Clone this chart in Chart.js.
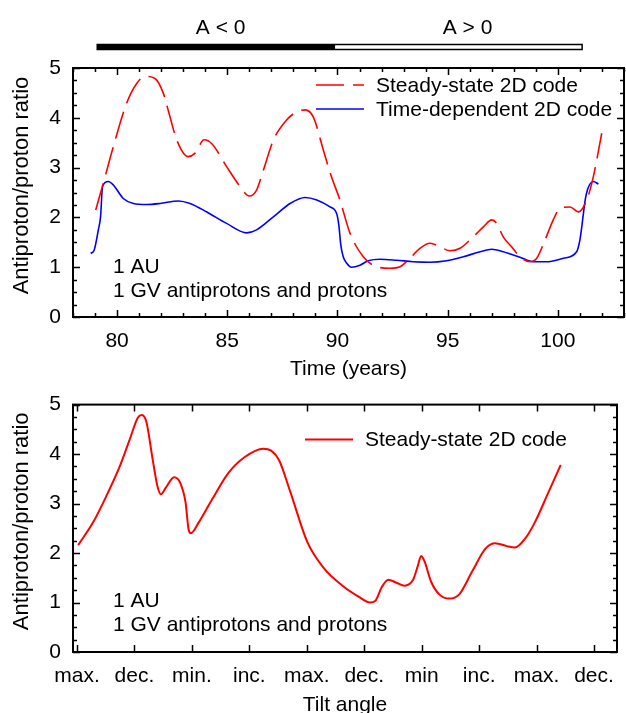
<!DOCTYPE html>
<html>
<head>
<meta charset="utf-8">
<script src="https://cdn.jsdelivr.net/npm/chart.js@4.4.0/dist/chart.umd.min.js"></script>
<style>
  html, body { margin: 0; padding: 0; background: #fff; }
  #wrap { position: relative; width: 626px; height: 713px; overflow: hidden; }
  canvas { position: absolute; left: 0; }
  #topChart { top: 0; }
  #tiltChart { top: 380px; }
</style>
</head>
<body>
<div id="wrap">
  <canvas id="topChart" width="626" height="395"></canvas>
  <canvas id="tiltChart" width="626" height="340"></canvas>
</div>
<script>
// --- data ---
// upper panel: ratio vs time (years)
const ssYears = [79.03, 79.37, 79.83, 80.43, 80.89, 81.27, 81.72, 82.10, 82.40, 82.71, 83.23, 83.54, 83.95, 84.30,
  84.97, 85.58, 86.00, 86.33, 86.64, 87.09, 87.70, 88.15, 88.53, 88.90, 89.36, 89.70, 90.11, 90.57, 91.17, 91.78,
  92.38, 92.84, 93.29, 93.74, 94.20, 94.65, 95.11, 95.56, 96.16, 96.62, 97.00, 97.22, 97.52, 97.90, 98.28, 98.74,
  99.04, 99.42, 99.79, 100.10, 100.55, 100.93, 101.31, 101.61, 101.99];
const ssRatio = [2.15, 2.68, 3.42, 4.29, 4.69, 4.83, 4.79, 4.49, 4.02, 3.55, 3.22, 3.29, 3.56, 3.48,
  3.02, 2.62, 2.43, 2.55, 2.95, 3.55, 3.96, 4.12, 4.16, 4.02, 3.35, 2.85, 2.35, 1.68, 1.21, 1.01,
  0.98, 1.01, 1.18, 1.38, 1.48, 1.41, 1.33, 1.38, 1.61, 1.81, 1.95, 1.88, 1.61, 1.41, 1.21, 1.11,
  1.18, 1.55, 1.95, 2.18, 2.21, 2.11, 2.35, 2.82, 3.69];

const tdYears = [78.80, 78.95, 79.15, 79.25, 79.34, 79.60, 79.83, 80.28, 80.74, 81.34, 81.95, 82.78, 83.31, 84.07,
  84.97, 85.88, 86.33, 87.09, 87.85, 88.53, 89.06, 89.66, 89.96, 90.06, 90.15, 90.26, 90.42, 90.64, 91.02, 91.40,
  91.93, 92.68, 93.44, 94.20, 94.95, 95.71, 96.47, 97.00, 97.52, 98.28, 98.89, 99.49, 100.25, 100.85, 101.00,
  101.28, 101.61, 101.84];
const tdRatio = [1.28, 1.33, 1.75, 2.01, 2.62, 2.72, 2.65, 2.38, 2.28, 2.26, 2.28, 2.33, 2.28, 2.11,
  1.88, 1.69, 1.75, 2.01, 2.28, 2.40, 2.35, 2.21, 2.08, 1.85, 1.45, 1.21, 1.08, 1.00, 1.04, 1.13,
  1.16, 1.14, 1.11, 1.10, 1.13, 1.21, 1.31, 1.36, 1.31, 1.20, 1.11, 1.11, 1.18, 1.31, 1.55,
  2.45, 2.72, 2.67];

const timeTicks = [80, 85, 90, 95, 100];
const ratioTicks = [0, 1, 2, 3, 4, 5];

// magnetic polarity bar above the upper panel
const polarityEdges = [79.1, 89.9, 101.1];
const polarityLabels = ['A < 0', 'A > 0'];
const polarityLabelAt = [84.7, 95.9];

// lower panel: ratio vs tilt-angle phase
const tiltLabels = ['max.', 'dec.', 'min.', 'inc.', 'max.', 'dec.', 'min', 'inc.', 'max.', 'dec.'];
const tiltPhase = [0.02, 0.28, 0.51, 0.74, 0.91, 1.06, 1.13, 1.21, 1.31, 1.40, 1.46, 1.54, 1.69, 1.80, 1.89,
  1.94, 1.98, 2.12, 2.35, 2.63, 2.92, 3.24, 3.38, 3.52, 3.72, 4.01, 4.30, 4.61, 4.90, 5.10, 5.19, 5.30,
  5.42, 5.56, 5.70, 5.85, 5.93, 5.99, 6.05, 6.16, 6.31, 6.48, 6.65, 6.88, 7.11, 7.28, 7.48, 7.62, 7.80,
  7.97, 8.20, 8.42];
const tiltRatio = [2.16, 2.62, 3.15, 3.74, 4.27, 4.74, 4.79, 4.64, 3.94, 3.35, 3.19, 3.31, 3.53, 3.41, 3.02,
  2.49, 2.40, 2.62, 3.08, 3.61, 3.94, 4.11, 4.07, 3.87, 3.21, 2.22, 1.69, 1.35, 1.12, 1.00, 1.03, 1.30,
  1.46, 1.40, 1.34, 1.46, 1.73, 1.94, 1.83, 1.43, 1.16, 1.08, 1.16, 1.63, 2.09, 2.20, 2.14, 2.11, 2.29,
  2.62, 3.21, 3.78];

const notes = ['1 AU', '1 GV antiprotons and protons'];
const yTitle = 'Antiproton/proton ratio';

const FONT = "'Liberation Sans', Arial, sans-serif";
Chart.defaults.color = '#000';
Chart.defaults.font.family = FONT;
Chart.defaults.font.size = 21;

const pts = (xs, ys) => xs.map((v, i) => ({ x: v, y: ys[i] }));

// frame + inward ticks on all four sides
const frameTicks = {
  id: 'frameTicks',
  afterDraw(chart, args, o) {
    const { ctx, chartArea: a, scales: { x, y } } = chart;
    ctx.save();
    ctx.strokeStyle = '#000';
    ctx.lineWidth = 1.5;
    ctx.beginPath();
    const vt = (v, len) => {
      const p = Math.round(x.getPixelForValue(v)) + 0.5;
      ctx.moveTo(p, a.bottom); ctx.lineTo(p, a.bottom - len);
      ctx.moveTo(p, a.top); ctx.lineTo(p, a.top + len);
    };
    const ht = (v, len) => {
      const p = Math.round(y.getPixelForValue(v)) + 0.5;
      ctx.moveTo(a.left, p); ctx.lineTo(a.left + len, p);
      ctx.moveTo(a.right, p); ctx.lineTo(a.right - len, p);
    };
    if (o.xMinorStep) {
      for (let v = Math.ceil(x.min); v <= x.max; v += o.xMinorStep) vt(v, 4);
    }
    o.xMajor.forEach(v => vt(v, 7));
    for (let v = 0; v <= 5.001; v += 0.25) ht(v, Math.abs(v - Math.round(v)) < 1e-6 ? 7 : 4);
    ctx.stroke();
    ctx.lineWidth = 2;
    ctx.strokeRect(a.left, a.top, a.right - a.left, a.bottom - a.top);
    ctx.restore();
  }
};

// legend, notes and the rotated y title
const keyNotes = {
  id: 'keyNotes',
  afterDraw(chart, args, o) {
    const { ctx, chartArea: a } = chart;
    ctx.save();
    ctx.font = '21px ' + FONT;
    ctx.fillStyle = '#000';
    ctx.textBaseline = 'middle';
    chart.data.datasets.forEach((ds, i) => {
      const yy = a.top + o.keyTop + i * o.keyGap;
      ctx.strokeStyle = ds.borderColor;
      ctx.lineWidth = ds.borderWidth;
      ctx.setLineDash(ds.borderDash || []);
      ctx.beginPath();
      ctx.moveTo(a.left + o.keyLeft, yy);
      ctx.lineTo(a.left + o.keyLeft + 48, yy);
      ctx.stroke();
      ctx.setLineDash([]);
      ctx.textAlign = 'left';
      ctx.fillText(ds.label, a.left + o.keyLeft + 60, yy + 1);
    });
    notes.forEach((t, i) => {
      ctx.fillText(t, a.left + 40, a.top + o.noteTop + i * 24);
    });
    // y title
    ctx.translate(22, (a.top + a.bottom) / 2 - 7);
    ctx.rotate(-Math.PI / 2);
    ctx.textAlign = 'center';
    ctx.font = '22px ' + FONT;
    ctx.fillText(yTitle, 0, 0);
    ctx.restore();
  }
};

// polarity bar (A<0 / A>0) above the upper panel
const polarityBar = {
  id: 'polarityBar',
  afterDraw(chart) {
    const { ctx, scales: { x } } = chart;
    const px = polarityEdges.map(v => x.getPixelForValue(v));
    ctx.save();
    ctx.fillStyle = '#000';
    ctx.fillRect(px[0], 44, px[1] - px[0], 6);
    ctx.fillStyle = '#fff';
    ctx.strokeStyle = '#000';
    ctx.lineWidth = 1.5;
    ctx.fillRect(px[1], 44, px[2] - px[1], 6);
    ctx.strokeRect(px[0], 44.5, px[2] - px[0], 5);
    ctx.font = '21px ' + FONT;
    ctx.fillStyle = '#000';
    ctx.textAlign = 'center';
    ctx.textBaseline = 'middle';
    polarityLabels.forEach((t, i) => ctx.fillText(t, x.getPixelForValue(polarityLabelAt[i]), 28));
    ctx.restore();
  }
};

const yAxis = () => ({
  type: 'linear',
  min: 0, max: 5,
  afterBuildTicks: s => { s.ticks = ratioTicks.map(v => ({ value: v })); },
  afterFit: s => { s.width = 73; },
  grid: { display: false, drawTicks: false },
  border: { display: false },
  ticks: { padding: 12, font: { size: 21 } }
});

new Chart(document.getElementById('topChart'), {
  type: 'line',
  data: {
    datasets: [{
      label: 'Steady-state 2D code',
      data: pts(ssYears, ssRatio),
      borderColor: '#ff0000',
      borderWidth: 1.6,
      borderDash: [28, 9],
      pointRadius: 0,
      cubicInterpolationMode: 'monotone'
    }, {
      label: 'Time-dependent 2D code',
      data: pts(tdYears, tdRatio),
      borderColor: '#0000ff',
      borderWidth: 1.6,
      pointRadius: 0,
      cubicInterpolationMode: 'monotone'
    }]
  },
  options: {
    responsive: false,
    animation: false,
    layout: { padding: { top: 68, right: 2, left: 0, bottom: 0 } },
    plugins: {
      legend: { display: false },
      tooltip: { enabled: false },
      frameTicks: { xMajor: timeTicks, xMinorStep: 1 },
      keyNotes: { keyLeft: 243, keyTop: 17, keyGap: 24, noteTop: 199 }
    },
    scales: {
      x: {
        type: 'linear',
        min: 78, max: 103,
        afterBuildTicks: s => { s.ticks = timeTicks.map(v => ({ value: v })); },
        afterFit: s => { s.height = 78; },
        grid: { display: false, drawTicks: false },
        border: { display: false },
        ticks: { padding: 12, maxRotation: 0, font: { size: 21 } },
        title: { display: true, text: 'Time (years)', padding: { top: 0, bottom: 13 }, font: { size: 21 } }
      },
      y: yAxis()
    }
  },
  plugins: [frameTicks, keyNotes, polarityBar]
});

new Chart(document.getElementById('tiltChart'), {
  type: 'line',
  data: {
    datasets: [{
      label: 'Steady-state 2D code',
      data: pts(tiltPhase, tiltRatio),
      borderColor: '#ff0000',
      borderWidth: 2,
      pointRadius: 0,
      cubicInterpolationMode: 'monotone'
    }]
  },
  options: {
    responsive: false,
    animation: false,
    layout: { padding: { top: 20, right: 3, left: 0, bottom: 0 } },
    plugins: {
      legend: { display: false },
      tooltip: { enabled: false },
      frameTicks: { xMajor: tiltLabels.map((t, i) => i), xMinorStep: 0 },
      keyNotes: { keyLeft: 232, keyTop: 35, keyGap: 24, noteTop: 197 }
    },
    scales: {
      x: {
        type: 'linear',
        min: -0.07, max: 9.4,
        afterBuildTicks: s => { s.ticks = tiltLabels.map((t, i) => ({ value: i })); },
        afterFit: s => { s.height = 68; },
        grid: { display: false, drawTicks: false },
        border: { display: false },
        ticks: { padding: 12, maxRotation: 0, autoSkip: false, font: { size: 21 },
          callback: v => tiltLabels[v] },
        title: { display: true, text: 'Tilt angle', padding: { top: 0, bottom: 2 }, font: { size: 21 } }
      },
      y: yAxis()
    }
  },
  plugins: [frameTicks, keyNotes]
});
</script>
</body>
</html>
